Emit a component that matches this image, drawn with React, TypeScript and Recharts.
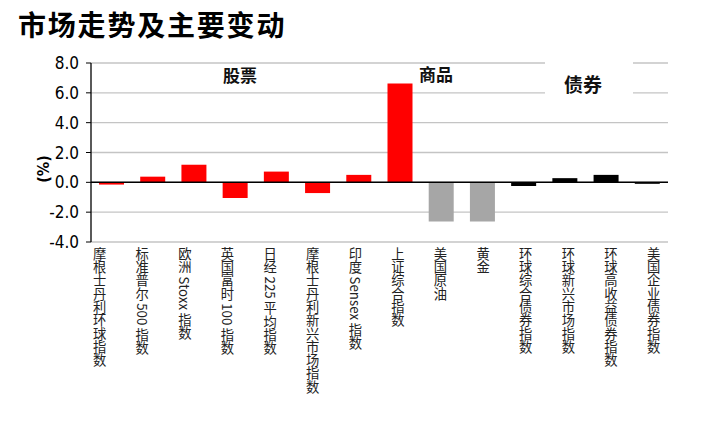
import { BarChart, Bar, XAxis, YAxis, CartesianGrid, ReferenceLine, Cell } from 'recharts';

const categories = [
  '摩根士丹利环球指数',
  '标准普尔 500 指数',
  '欧洲 Stoxx 指数',
  '英国富时 100 指数',
  '日经 225 平均指数',
  '摩根士丹利新兴市场指数',
  '印度 Sensex 指数',
  '上证综合指数',
  '美国原油',
  '黄金',
  '环球综合债券指数',
  '环球新兴市场指数',
  '环球高收益债券指数',
  '美国企业债券指数',
];
const changes = [-0.15, 0.38, 1.18, -1.05, 0.72, -0.72, 0.5, 6.62, -2.62, -2.62, -0.25, 0.28, 0.5, -0.1];
const assetClass = ['股票', '股票', '股票', '股票', '股票', '股票', '股票', '股票', '商品', '商品', '债券', '债券', '债券', '债券'];
const yTicks = [-4, -2, 0, 2, 4, 6, 8];

const classColor: Record<string, string> = { 股票: '#ff0000', 商品: '#a6a6a6', 债券: '#000000' };

const data = categories.map((name, i) => ({ name, value: changes[i], cls: assetClass[i] }));

const cjk = "'Noto Sans CJK SC', 'Noto Sans', sans-serif";
const narrow = "'Liberation Sans Narrow', 'DejaVu Sans Condensed', 'Liberation Sans', sans-serif";

function CategoryTick({ x, y, payload, index }: any) {
  const shift = -12 + index * 1.4;
  return (
    <text
      x={x + shift}
      y={y - 3}
      fill="#222"
      fontSize={13.3}
      fontFamily={cjk}
      style={{ writingMode: 'vertical-rl', textOrientation: 'mixed' } as any}
    >
      {payload.value}
    </text>
  );
}

const sectionStyle = {
  position: 'absolute' as const,
  fontFamily: cjk,
  fontWeight: 700,
  color: '#111',
  lineHeight: 1,
};

export default function App() {
  return (
    <div style={{ position: 'absolute', left: 0, top: 0, width: 705, height: 424, background: '#fff' }}>
      <div style={{ ...sectionStyle, left: 18, top: 10, fontSize: 28, letterSpacing: 1.8, color: '#000' }}>
        市场走势及主要变动
      </div>
      <BarChart width={705} height={424} data={data} margin={{ top: 63, right: 37, left: 0, bottom: 0 }}>
        <CartesianGrid vertical={false} stroke="#c4c4c4" strokeWidth={1.3} />
        <XAxis
          dataKey="name"
          interval={0}
          height={182}
          tickLine={false}
          axisLine={false}
          tick={<CategoryTick />}
        />
        <YAxis
          width={91}
          domain={[-4, 8]}
          ticks={yTicks}
          interval={0}
          tickFormatter={(v: number) => v.toFixed(1)}
          tick={{ fontSize: 17, fill: '#000', fontFamily: narrow }}
          tickSize={5}
          tickMargin={7}
          tickLine={{ stroke: '#000' }}
          axisLine={{ stroke: '#000', strokeWidth: 1.3 }}
        />
        <ReferenceLine y={0} stroke="#000" strokeWidth={1.5} />
        <Bar dataKey="value" barSize={25} isAnimationActive={false}>
          {data.map((d) => (
            <Cell key={d.name} fill={classColor[d.cls]} />
          ))}
        </Bar>
      </BarChart>
      <div style={{ position: 'absolute', left: 545, top: 58, width: 88, height: 42, background: '#fff' }} />
      <div style={{ ...sectionStyle, left: 223, top: 66, fontSize: 17 }}>股票</div>
      <div style={{ ...sectionStyle, left: 419, top: 65, fontSize: 17 }}>商品</div>
      <div style={{ ...sectionStyle, left: 564, top: 74, fontSize: 19 }}>债券</div>
      <div
        style={{
          ...sectionStyle,
          left: 30,
          top: 161,
          fontSize: 16,
          fontFamily: narrow,
          transform: 'rotate(-90deg)',
          color: '#000',
        }}
      >
        (%)
      </div>
    </div>
  );
}
